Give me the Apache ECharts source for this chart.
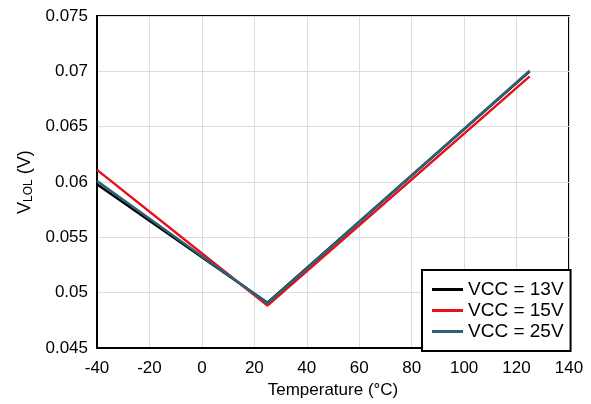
<!DOCTYPE html>
<html>
<head>
<meta charset="utf-8">
<script src="https://cdn.jsdelivr.net/npm/echarts@6/dist/echarts.min.js"></script>
<style>html,body{margin:0;padding:0;background:#fff}#c{width:591px;height:404px}</style>
</head>
<body>
<div id="c"></div>
<script>
const temps = [-40, 25, 125];
const vcc13 = [0.0598, 0.0491, 0.0700];
const vcc15 = [0.0611, 0.04885, 0.06955];
const vcc25 = [0.0601, 0.04905, 0.07005];
const seriesNames = ['VCC = 13V', 'VCC = 15V', 'VCC = 25V'];
const colors = ['#000000', '#e8101a', '#2b6275'];

const pairs = a => temps.map((t, i) => [t, a[i]]);
const chart = echarts.init(document.getElementById('c'));
const font = 'Liberation Sans, Arial, sans-serif';
chart.setOption({
  animation: false,
  grid: { left: 97, right: 22, top: 16, bottom: 53, show: true, borderColor: '#000', borderWidth: 2, containLabel: false },
  xAxis: {
    type: 'value', min: -40, max: 140, interval: 20,
    name: 'Temperature (°C)', nameLocation: 'middle', nameGap: 32,
    nameTextStyle: { color: '#000', fontSize: 17, fontFamily: font },
    axisLine: { show: true, onZero: false, lineStyle: { color: '#000', width: 2 } },
    axisTick: { show: false },
    axisLabel: { color: '#000', fontSize: 17, fontFamily: font, margin: 12 },
    splitLine: { show: true, lineStyle: { color: '#dcdcdc', width: 1 } }
  },
  yAxis: {
    type: 'value', min: 0.045, max: 0.075, interval: 0.005,
    name: '{a|V}{b|LOL}{a| (V)}', nameLocation: 'middle', nameGap: 62,
    nameTextStyle: { rich: {
      a: { color: '#000', fontSize: 18, fontFamily: font },
      b: { color: '#000', fontSize: 12, fontFamily: font, verticalAlign: 'bottom', padding: [7, 0, 0, 0] }
    } },
    axisLine: { show: true, onZero: false, lineStyle: { color: '#000', width: 2 } },
    axisTick: { show: false },
    axisLabel: { color: '#000', fontSize: 17, fontFamily: font, margin: 9 },
    splitLine: { show: true, lineStyle: { color: '#dcdcdc', width: 1 } }
  },
  legend: {
    orient: 'vertical', left: 422, top: 270,
    backgroundColor: '#fff', borderColor: '#000', borderWidth: 2,
    padding: [10, 7, 10, 10], itemGap: 2, itemWidth: 31, itemHeight: 3,
    icon: 'rect',
    textStyle: { color: '#000', fontSize: 19, fontFamily: font, lineHeight: 19 },
    data: seriesNames
  },
  series: [
    { name: seriesNames[0], type: 'line', data: pairs(vcc13), symbol: 'none', lineStyle: { color: colors[0], width: 2.5 }, itemStyle: { color: colors[0] } },
    { name: seriesNames[1], type: 'line', data: pairs(vcc15), symbol: 'none', lineStyle: { color: colors[1], width: 2.5 }, itemStyle: { color: colors[1] } },
    { name: seriesNames[2], type: 'line', data: pairs(vcc25), symbol: 'none', lineStyle: { color: colors[2], width: 2.5 }, itemStyle: { color: colors[2] } }
  ]
});
</script>
</body>
</html>
